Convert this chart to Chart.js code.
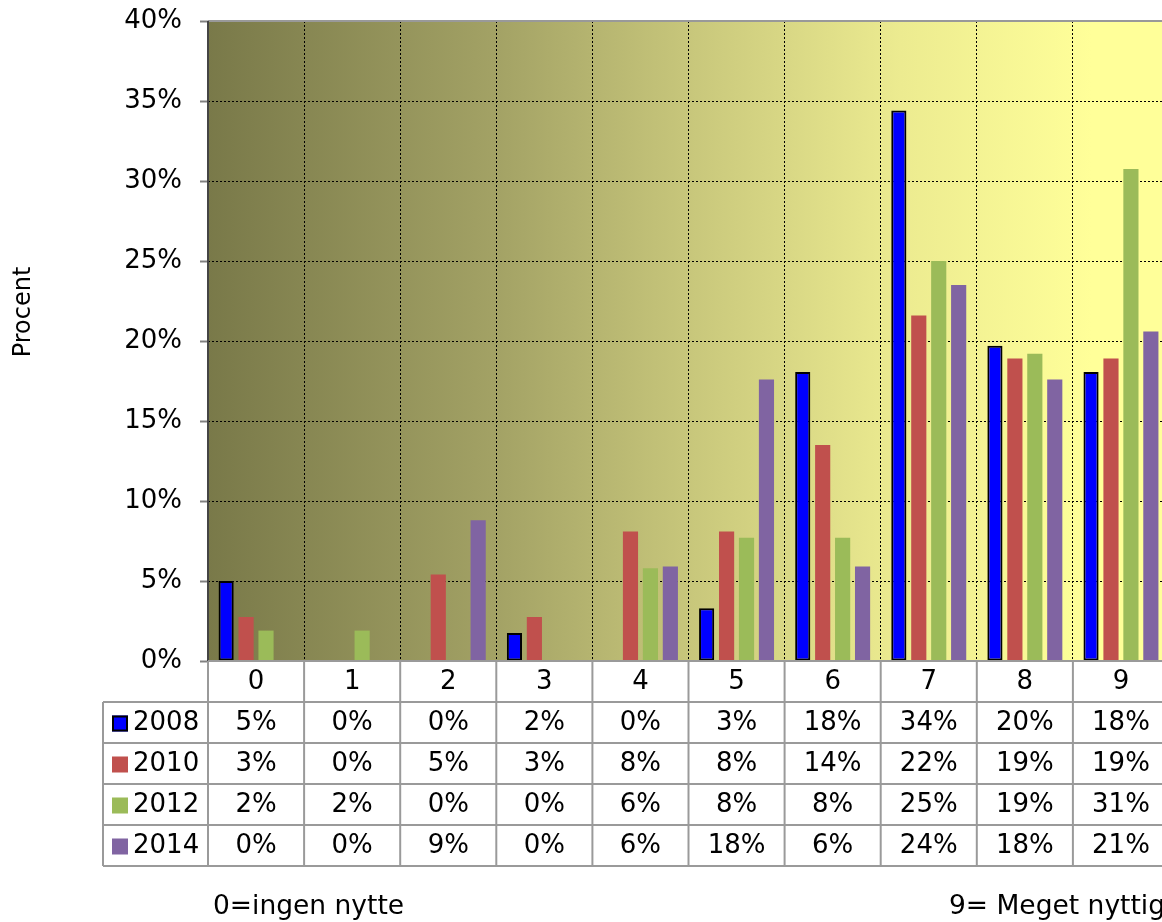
<!DOCTYPE html>
<html>
<head>
<meta charset="utf-8">
<script src="https://cdn.jsdelivr.net/npm/chart.js@4/dist/chart.umd.min.js"></script>
<style>
  html, body { margin: 0; padding: 0; background: #fff; overflow: hidden; }
  #wrap { position: absolute; left: 0; top: 0; width: 1172px; height: 922px; }
</style>
</head>
<body>
<div id="wrap"><canvas id="chart"></canvas></div>
<script>
// Categories and series (percent)
const categories = ['0', '1', '2', '3', '4', '5', '6', '7', '8', '9'];
const seriesNames = ['2008', '2010', '2012', '2014'];
const values2008 = [5.0, 0, 0, 1.75, 0, 3.3, 18.06, 34.4, 19.7, 18.06];
const values2010 = [2.75, 0, 5.4, 2.75, 8.1, 8.1, 13.5, 21.6, 18.9, 18.9];
const values2012 = [1.9, 1.9, 0, 0, 5.8, 7.7, 7.7, 25.0, 19.2, 30.75];
const values2014 = [0, 0, 8.8, 0, 5.9, 17.6, 5.9, 23.5, 17.6, 20.6];
const yTicks = [0, 5, 10, 15, 20, 25, 30, 35, 40];

const seriesColors = ['#0000ff', '#c0504d', '#9bbb59', '#8064a2'];
const FONT = '"DejaVu Sans", Verdana, sans-serif';

// Plot background gradient + frame lines
const backgroundPlugin = {
    id: 'plotBackground',
    beforeDraw(chart) {
        const { ctx, chartArea: a } = chart;
        const g = ctx.createLinearGradient(a.left, 0, a.right, 0);
        g.addColorStop(0, '#797949');
        g.addColorStop(0.3, '#a3a265');
        g.addColorStop(0.52, '#cbca7d');
        g.addColorStop(0.72, '#eceb90');
        g.addColorStop(0.92, '#ffff99');
        g.addColorStop(1, '#ffff99');
        ctx.save();
        ctx.fillStyle = g;
        ctx.fillRect(a.left, a.top, a.right - a.left, a.bottom - a.top);
        ctx.restore();
    },
    afterDatasetsDraw(chart) {
        const { ctx, chartArea: a } = chart;
        ctx.save();
        ctx.setLineDash([]);
        ctx.strokeStyle = '#999999';
        ctx.lineWidth = 2;
        ctx.beginPath();
        ctx.moveTo(a.left, a.top);
        ctx.lineTo(a.right + 10, a.top);
        ctx.stroke();
        ctx.strokeStyle = '#444444';
        ctx.beginPath();
        ctx.moveTo(a.left, a.top);
        ctx.lineTo(a.left, a.bottom);
        ctx.stroke();
        ctx.restore();
    }
};

// Data table under the plot, plus axis captions
const tablePlugin = {
    id: 'dataTable',
    afterDraw(chart) {
        const { ctx, chartArea: a, scales: { x } } = chart;
        const colW = x.getPixelForValue(1) - x.getPixelForValue(0);
        const rowH = 41;
        const top = a.bottom;
        const legendLeft = 103;
        const allSeries = chart.data.datasets.map(d => d.data);

        ctx.save();
        ctx.setLineDash([]);
        ctx.strokeStyle = '#9a9a9a';
        ctx.lineWidth = 2;
        for (let r = 0; r <= 5; r++) {
            const y = top + r * rowH;
            ctx.beginPath();
            ctx.moveTo(r === 0 ? a.left : legendLeft, y);
            ctx.lineTo(a.right + 10, y);
            ctx.stroke();
        }
        ctx.beginPath();
        ctx.moveTo(legendLeft, top + rowH);
        ctx.lineTo(legendLeft, top + 5 * rowH);
        ctx.stroke();
        categories.forEach((c, i) => {
            const xl = x.getPixelForValue(i) - colW / 2;
            ctx.beginPath();
            ctx.moveTo(xl, top);
            ctx.lineTo(xl, top + 5 * rowH);
            ctx.stroke();
        });

        ctx.fillStyle = '#000';
        ctx.textAlign = 'center';
        ctx.textBaseline = 'middle';
        ctx.font = '26px ' + FONT;
        categories.forEach((c, i) => {
            ctx.fillText(c, x.getPixelForValue(i), top + rowH / 2 + 1);
        });
        allSeries.forEach((vals, s) => {
            const yc = top + (s + 1) * rowH + rowH / 2 + 1;
            vals.forEach((v, i) => {
                ctx.fillText(Math.round(v) + '%', x.getPixelForValue(i), yc);
            });
            // legend key
            ctx.fillStyle = seriesColors[s];
            ctx.fillRect(112, yc - 8, 16, 16);
            if (s === 0) {
                ctx.strokeStyle = '#000';
                ctx.lineWidth = 2;
                ctx.strokeRect(113, yc - 7, 14, 14);
            }
            ctx.fillStyle = '#000';
            ctx.textAlign = 'left';
            ctx.fillText(seriesNames[s], 133, yc);
            ctx.textAlign = 'center';
        });

        // axis title
        ctx.save();
        ctx.translate(24, 312);
        ctx.rotate(-Math.PI / 2);
        ctx.font = '24px ' + FONT;
        ctx.fillText('Procent', 0, 0);
        ctx.restore();

        // scale captions
        ctx.textAlign = 'left';
        ctx.font = '26.5px ' + FONT;
        ctx.fillText('0=ingen nytte', 213, 907);
        ctx.fillText('9= Meget nyttig', 949, 907);
        ctx.restore();
    }
};

const datasets = [values2008, values2010, values2012, values2014].map((vals, s) => ({
    label: seriesNames[s],
    data: vals,
    backgroundColor: seriesColors[s],
    borderColor: '#000000',
    borderWidth: s === 0 ? 2 : 0,
    borderSkipped: false,
    categoryPercentage: 0.83,
    barPercentage: 0.76
}));

new Chart(document.getElementById('chart'), {
    type: 'bar',
    data: { labels: categories, datasets },
    options: {
        responsive: true,
        maintainAspectRatio: false,
        animation: false,
        layout: { padding: { top: 21, bottom: 261, right: 3, left: 0 } },
        plugins: {
            legend: { display: false },
            tooltip: { enabled: false }
        },
        scales: {
            x: {
                offset: true,
                ticks: { display: false },
                border: { display: false, dash: [2, 2] },
                grid: {
                    offset: true,
                    color: '#000000',
                    lineWidth: 1,
                    drawTicks: false
                },
                afterFit(scale) { scale.height = 0; }
            },
            y: {
                min: 0,
                max: 40,
                afterBuildTicks(scale) { scale.ticks = yTicks.map(v => ({ value: v })); },
                afterFit(scale) {
                    scale.width = 208;
                    scale.paddingTop = 0;
                    scale.paddingBottom = 0;
                },
                ticks: {
                    padding: 18,
                    color: '#000',
                    font: { family: FONT, size: 26 },
                    callback: v => v + '%'
                },
                border: { display: false, dash: [2, 2] },
                grid: {
                    color: '#000000',
                    lineWidth: 1,
                    tickLength: 8,
                    tickColor: '#808080',
                    tickBorderDash: [],
                    tickWidth: 2
                }
            }
        }
    },
    plugins: [backgroundPlugin, tablePlugin]
});
</script>
</body>
</html>
